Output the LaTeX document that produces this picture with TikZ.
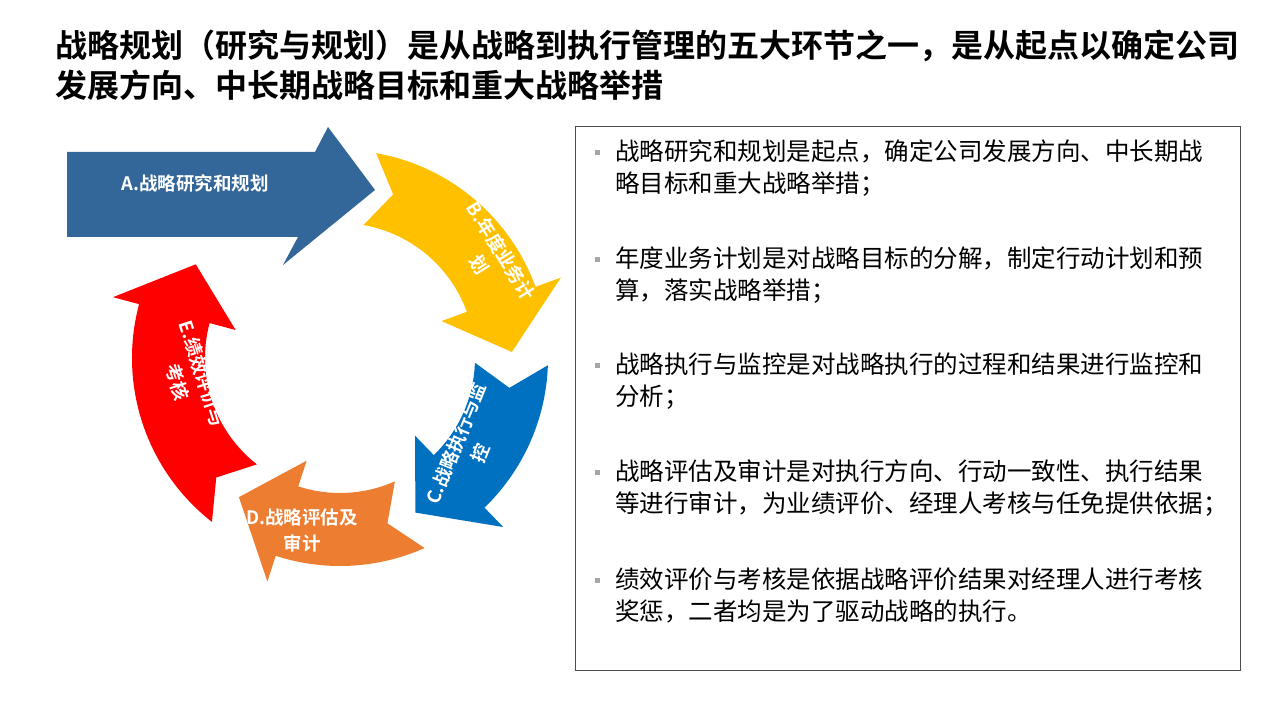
\documentclass[tikz,border=0pt]{standalone}
\usepackage{fontspec}
\setmainfont{Noto Sans CJK SC}[BoldFont={Noto Sans CJK SC Bold}]
\usetikzlibrary{positioning}
\definecolor{cA}{HTML}{336699}
\definecolor{cB}{HTML}{FFC000}
\definecolor{cC}{HTML}{0070C0}
\definecolor{cD}{HTML}{ED7D31}
\definecolor{cE}{HTML}{FF0000}
% ring arrow: colour, start angle, tip angle (clockwise)
\newcommand{\ringarrow}[3]{%
  \fill[#1, shift={(340,362)}] ({#2}:208) arc[start angle={#2}, end angle={#3+18}, radius=208]
    -- ({#3+18}:235) -- ({#3}:172) -- ({#3+18}:108) -- ({#3+18}:135)
    arc[start angle={#3+18}, end angle={#2}, radius=135] -- ({#2-8}:172) -- cycle;}
\begin{document}
\begin{tikzpicture}[x=1pt, y=1pt,
  steplabel/.style={text=white, font=\bfseries\fontsize{18.5}{26}\selectfont, align=center},
  bullettext/.style={anchor=north west, align=left, font=\fontsize{24.5}{32}\selectfont, inner sep=0pt},
  bulletmark/.style={fill=gray!70, minimum size=5pt, inner sep=0pt}]
  \useasboundingbox (0,0) rectangle (1280,720);
  % title
  \node[anchor=north west, align=left, inner sep=0pt, font=\bfseries\fontsize{32}{40}\selectfont] (title) at (55,690)
    {战略规划（研究与规划）是从战略到执行管理的五大环节之一，是从起点以确定公司\\发展方向、中长期战略目标和重大战略举措};

  % cycle arrows
  \ringarrow{cB}{80}{2}
  \ringarrow{cC}{-2}{-64}
  \ringarrow{cD}{-66}{-126}
  \ringarrow{cE}{-128}{-213}
  \fill[cA] (67,568) -- (315,568) -- (328,593) -- (375,530) -- (283,455) -- (298,483) -- (67,483) -- cycle;

  % labels
  \node[steplabel] (la) at (195,537) {A.战略研究和规划};
  \node[steplabel, rotate=-58] (lb) at (490,462) {B.年度业务计\\划};
  \node[steplabel, rotate=68] (lc) at (468,272) {C.战略执行与监\\控};
  \node[steplabel] (ld) at (302,190) {D.战略评估及\\审计};
  \node[steplabel, rotate=-72] (le) at (190,342) {E.绩效评价与\\考核};

  % text box
  \draw[gray!60!black] (575,50) rectangle (1240,594);
  \foreach \y/\txt [count=\i] in {
      580/{战略研究和规划是起点，确定公司发展方向、中长期战\\略目标和重大战略举措；},
      473/{年度业务计划是对战略目标的分解，制定行动计划和预\\算，落实战略举措；},
      367/{战略执行与监控是对战略执行的过程和结果进行监控和\\分析；},
      260/{战略评估及审计是对执行方向、行动一致性、执行结果\\等进行审计，为业绩评价、经理人考核与任免提供依据；},
      152/{绩效评价与考核是依据战略评价结果对经理人进行考核\\奖惩，二者均是为了驱动战略的执行。}} {
    \node[bullettext] (t\i) at (615,\y) {\txt};
    \node[bulletmark] (m\i) at (597,\y-13) {};
  }
\end{tikzpicture}
\end{document}
